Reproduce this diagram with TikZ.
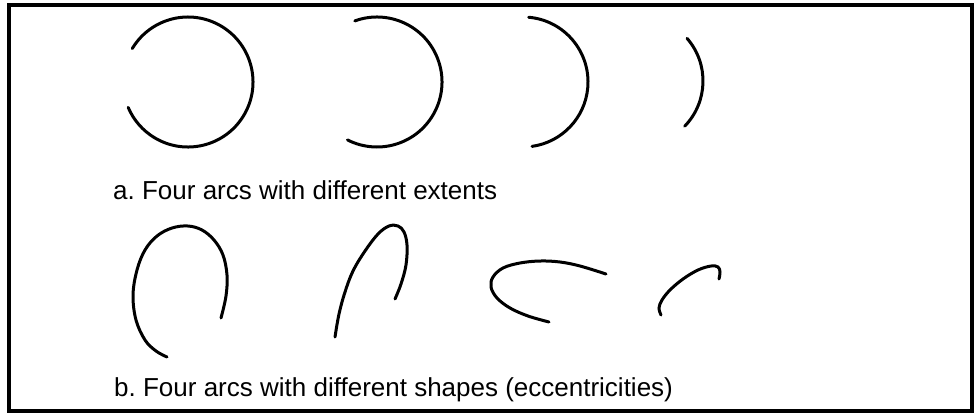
\documentclass[tikz,border=0pt]{standalone}
\usepackage{fontspec}
\setmainfont[Ligatures=NoCommon]{Liberation Sans}
\frenchspacing
\begin{document}
\begin{tikzpicture}[x=1pt,y=-1pt,
  arcline/.style={line width=3pt,line cap=round,black},
  frameline/.style={line width=3.5pt,black},
  caption/.style={anchor=base west,inner sep=0pt,font=\fontsize{26}{30}\selectfont}]
\useasboundingbox (0,0) rectangle (977,413);
\draw[frameline] (9,5) rectangle (972,411);
% a. arcs with different extents
\draw[arcline] ([shift={(149:65pt)}]188,82) arc[start angle=149,end angle=-157,radius=65pt];
\draw[arcline] ([shift={(110:65pt)}]377,82) arc[start angle=110,end angle=-117,radius=65pt];
\draw[arcline] ([shift={(85:65pt)}]523,82) arc[start angle=85,end angle=-82,radius=65pt];
\draw[arcline] ([shift={(41:65pt)}]638,81) arc[start angle=41,end angle=-44,radius=65pt];
\node[caption] (capa) at (113,199) {a. Four arcs with different extents};
% b. arcs with different shapes
\draw[arcline] plot[smooth,tension=0.6] coordinates {(221,318) (226,296) (227,275) (223,255) (214,240) (202,230) (188,226) (172,228) (157,236) (145,250) (137,270) (133,295) (136,320) (145,340) (156,351) (167,357)};
\draw[arcline] plot[smooth,tension=0.6] coordinates {(335,337) (339,314) (345,292) (353,271) (365,251) (378,234) (389,226) (398,226) (404,232) (407,245) (406,265) (401,284) (395,299)};
\draw[arcline] plot[smooth,tension=0.6] coordinates {(606,274) (580,266) (560,262) (540,261) (520,263) (503,268) (493,277) (491,287) (497,298) (510,308) (528,316) (549,322)};
\draw[arcline] plot[smooth,tension=0.6] coordinates {(661,315) (659,308) (662,300) (670,290) (683,279) (698,270) (711,266) (718,267) (720,272) (719,279)};
\node[caption] (capb) at (114,396) {b. Four arcs with different shapes (eccentricities)};
\end{tikzpicture}
\end{document}
